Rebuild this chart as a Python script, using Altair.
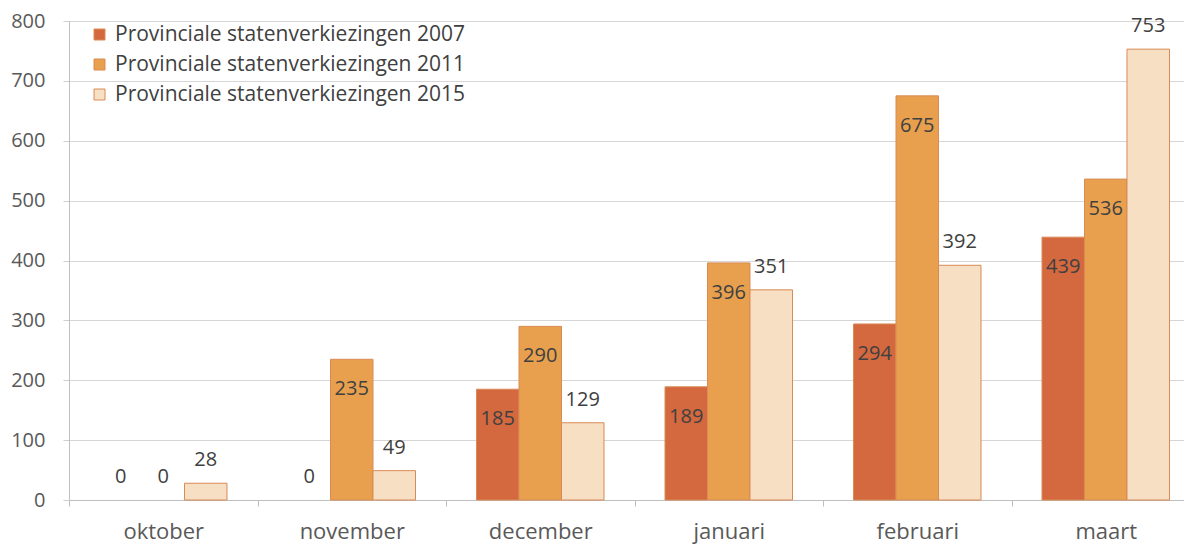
import altair as alt
import pandas as pd

months = ["oktober", "november", "december", "januari", "februari", "maart"]
series = [
    "Provinciale statenverkiezingen 2007",
    "Provinciale statenverkiezingen 2011",
    "Provinciale statenverkiezingen 2015",
]
v2007 = [0, 0, 185, 189, 294, 439]
v2011 = [0, 235, 290, 396, 675, 536]
v2015 = [28, 49, 129, 351, 392, 753]
colors = ["#d4683f", "#e8a04f", "#f7dfc4"]

rows = []
for i, m in enumerate(months):
    for s, vals in zip(series, [v2007, v2011, v2015]):
        rows.append({"maand": m, "reeks": s, "aantal": vals[i]})
df = pd.DataFrame(rows)
df["buiten"] = (df["reeks"] == series[2]) | (df["aantal"] == 0)

FONT = "Open Sans"
W, H = 1115, 479

x_enc = alt.X(
    "maand:N",
    sort=months,
    title=None,
    scale=alt.Scale(paddingInner=0, paddingOuter=0, range=[0, 1131]),
    axis=alt.Axis(
        labelAngle=0,
        labelFontSize=22,
        labelFont=FONT,
        labelColor="#595959",
        labelPadding=15,
        tickBand="extent",
        tickSize=6,
        tickColor="#bfbfbf",
        domainColor="#bfbfbf",
        grid=False,
    ),
)
xo_enc = alt.XOffset(
    "reeks:N", sort=series, scale=alt.Scale(paddingInner=0, paddingOuter=0.718)
)
y_enc = alt.Y(
    "aantal:Q",
    title=None,
    scale=alt.Scale(domain=[0, 800], nice=False),
    axis=alt.Axis(
        values=[0, 100, 200, 300, 400, 500, 600, 700, 800],
        labelFontSize=20,
        labelFont=FONT,
        labelColor="#595959",
        labelPadding=18,
        tickSize=6,
        tickColor="#cfcfcf",
        domainColor="#bfbfbf",
        gridColor="#d6d6d6",
    ),
)

base = alt.Chart(df).encode(x=x_enc, xOffset=xo_enc, y=y_enc)

bars = base.transform_filter("datum.aantal > 0").mark_bar(
    stroke="#d98a55", strokeWidth=1
).encode(
    color=alt.Color(
        "reeks:N",
        sort=series,
        scale=alt.Scale(domain=series, range=colors),
        legend=alt.Legend(
            title=None,
            orient="none",
            legendX=20,
            legendY=3,
            symbolType="square",
            symbolSize=121,
            symbolStrokeColor="#d98a55",
            symbolStrokeWidth=1,
            labelFontSize=21,
            labelFont=FONT,
            labelColor="#404040",
            labelOffset=5,
            labelLimit=0,
            rowPadding=8,
            padding=0,
        ),
    )
)

outside = base.transform_filter("datum.buiten").mark_text(
    dy=-17, baseline="alphabetic", fontSize=20, font=FONT, color="#404040"
).encode(text="aantal:Q")

inside = base.transform_filter("!datum.buiten").mark_text(
    dy=36, baseline="alphabetic", fontSize=20, font=FONT, color="#404040"
).encode(text="aantal:Q")

chart = (
    alt.layer(bars, outside, inside)
    .properties(
        width=W,
        height=H,
        autosize=alt.AutoSizeParams(type="none"),
        padding={"left": 61, "top": 13, "right": 0, "bottom": 48},
    )
    .configure_view(stroke=None)
    .configure(background="white")
)

chart.save("out.html", embed_options={"renderer": "svg", "actions": False})
